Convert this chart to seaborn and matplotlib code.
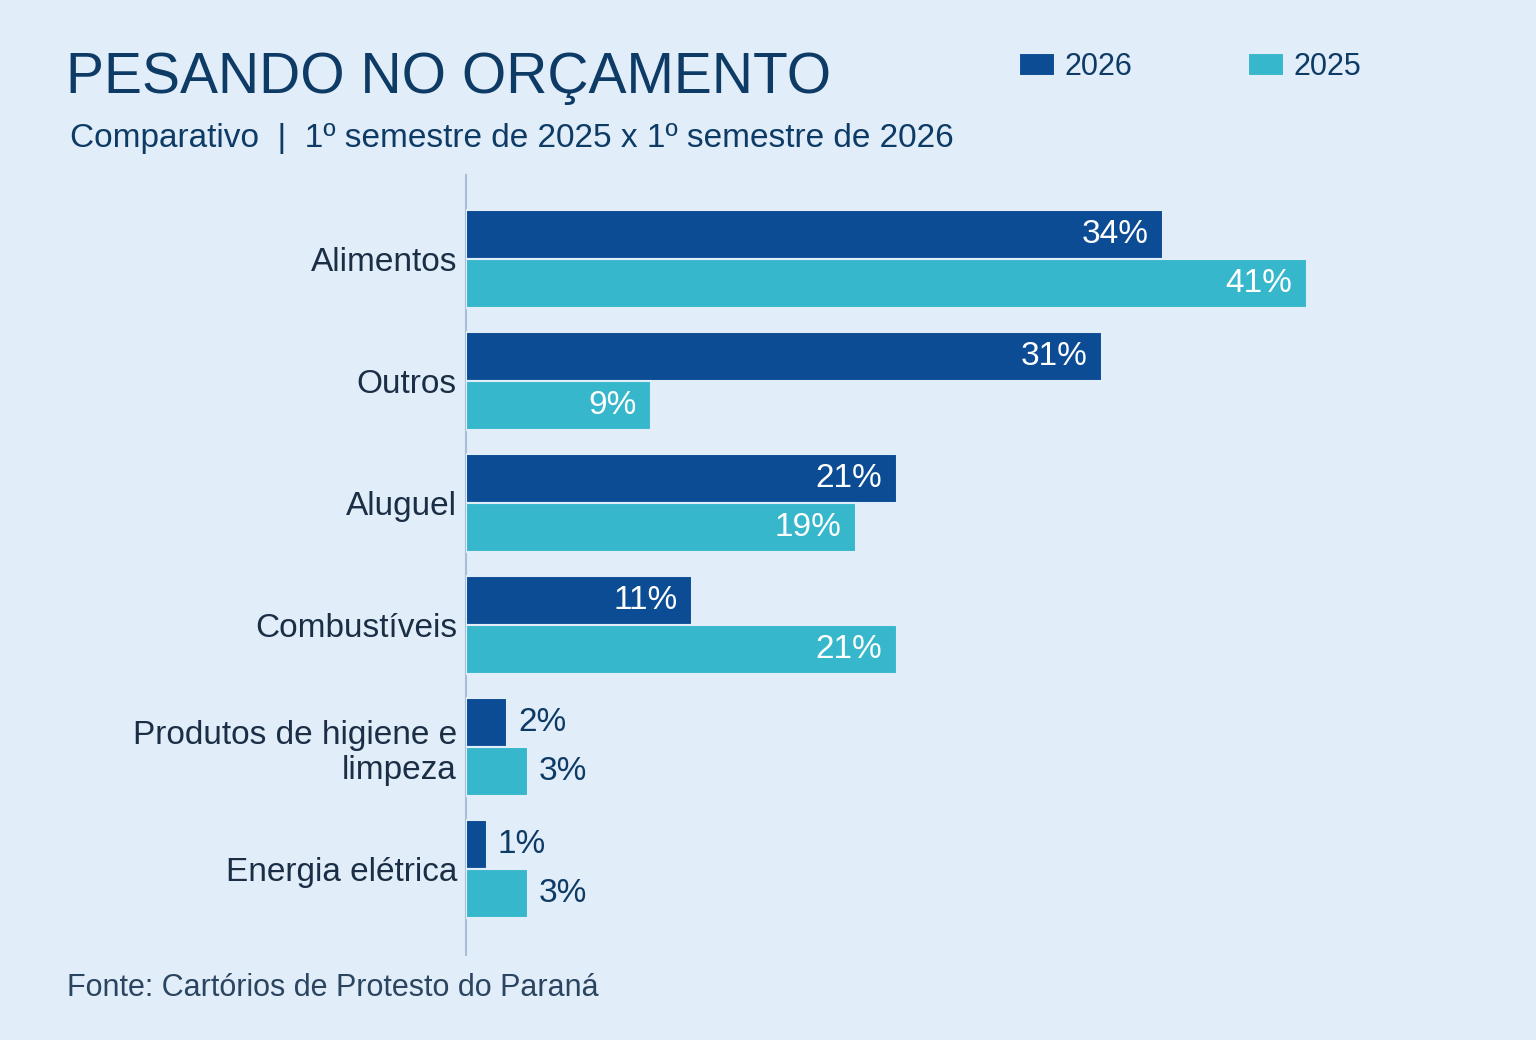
import pandas as pd
import seaborn as sns
import matplotlib.pyplot as plt

categorias = ['Alimentos', 'Outros', 'Aluguel', 'Combustíveis',
              'Produtos de higiene e\nlimpeza', 'Energia elétrica']
valores_2026 = [34, 31, 21, 11, 2, 1]
valores_2025 = [41, 9, 19, 21, 3, 3]
anos = ['2026', '2025']

bg = '#E1EDF8'
cores = {'2026': '#0B4C94', '2025': '#37B7CC'}
azul_texto = '#0D3B66'

df = pd.DataFrame({
    'categoria': categorias * 2,
    'valor': valores_2026 + valores_2025,
    'ano': ['2026'] * len(categorias) + ['2025'] * len(categorias),
})

sns.set_style('white')
plt.rcParams['font.family'] = ['Liberation Sans', 'DejaVu Sans']

fig = plt.figure(figsize=(15.36, 10.40), dpi=100, facecolor=bg)
ax = fig.add_axes([466 / 1536, 1 - 955 / 1040, (50 * 20.5) / 1536, 780 / 1040])
ax.set_facecolor(bg)

sns.barplot(data=df, y='categoria', x='valor', hue='ano', hue_order=anos,
            order=categorias, palette=cores, orient='h', width=0.8,
            edgecolor=bg, linewidth=1.5, saturation=1, ax=ax, zorder=3)

ax.set_xlim(0, 50)
ax.set_ylim(5.705, -0.69)
ax.set_xlabel('')
ax.set_ylabel('')
ax.set_xticks([])
for s in ['top', 'right', 'bottom']:
    ax.spines[s].set_visible(False)
ax.spines['left'].set_color('#A9BFD6')
ax.spines['left'].set_linewidth(1.5)
ax.spines['left'].set_zorder(1)
ax.tick_params(axis='y', length=0, pad=6.5, labelsize=24, labelcolor='#1A2E45')

# rótulos de valor
for cont in ax.containers:
    for bar in cont:
        w = bar.get_width()
        yc = bar.get_y() + bar.get_height() / 2
        if w >= 5:
            ax.annotate(f'{w:.0f}%', (w, yc), xytext=(-10, 0), textcoords='offset points',
                        ha='right', va='center', fontsize=24, color='white', zorder=5)
        else:
            ax.annotate(f'{w:.0f}%', (w, yc), xytext=(8, 0), textcoords='offset points',
                        ha='left', va='center', fontsize=24, color=azul_texto, zorder=5)

# legenda
handles, labels = ax.get_legend_handles_labels()
ax.legend_.remove()
fig.legend(handles, labels, loc='center left', bbox_to_anchor=(1019 / 1536, 1 - 67 / 1040),
           ncol=2, frameon=False, fontsize=22, handlelength=1.18, handleheight=0.78,
           handletextpad=0.3, columnspacing=3.8, borderpad=0, borderaxespad=0,
           labelcolor=azul_texto)

fig.text(66 / 1536, 1 - 93 / 1040, 'PESANDO NO ORÇAMENTO', fontsize=41,
         color=azul_texto, va='baseline', ha='left')
fig.text(70 / 1536, 1 - 147 / 1040,
         'Comparativo  |  1º semestre de 2025 x 1º semestre de 2026',
         fontsize=24, color=azul_texto, va='baseline', ha='left')
fig.text(67 / 1536, 1 - 996 / 1040, 'Fonte: Cartórios de Protesto do Paraná',
         fontsize=22, color='#2B4560', va='baseline', ha='left')

fig.savefig('out.png', dpi=100, facecolor=bg)
